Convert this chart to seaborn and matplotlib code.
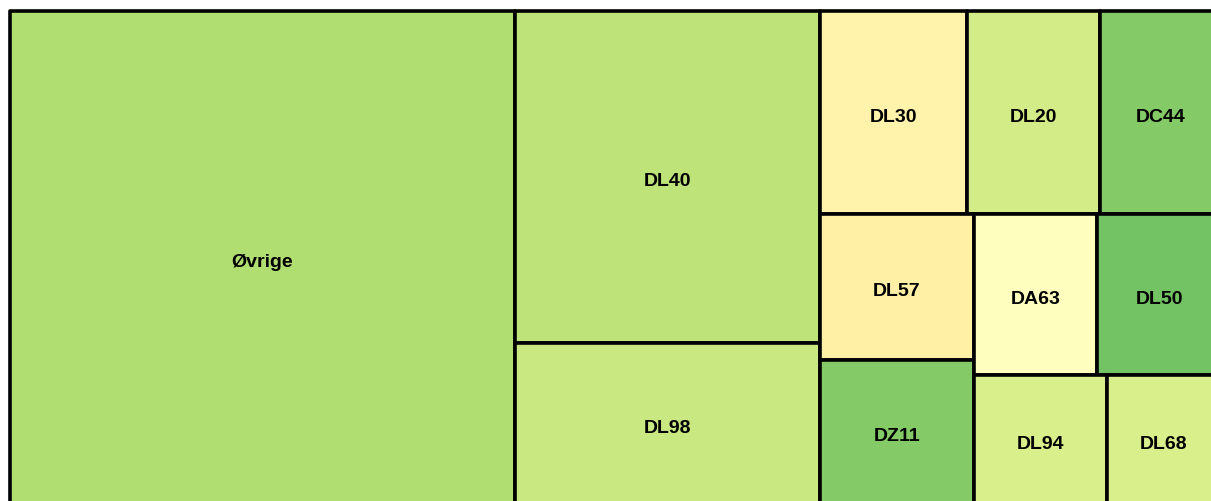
import matplotlib
matplotlib.use("Agg")
import matplotlib.pyplot as plt
from matplotlib.patches import Rectangle
import seaborn as sns

# treemap data, biggest first
labels = ["Øvrige", "DL40", "DL98", "DL30", "DL20", "DC44",
          "DL57", "DZ11", "DA63", "DL50", "DL94", "DL68"]
values = [249.5, 101.3, 49.3, 29.9, 27.1, 24.6, 22.4, 22.2, 19.8, 19.8, 17.3, 14.8]
# colour value on the RdYlGn scale (0 = red, 1 = green)
scores = [0.676, 0.655, 0.631, 0.461, 0.61, 0.75, 0.452, 0.75, 0.5, 0.778, 0.6, 0.6]

SQUARIFY_RATIO = 1.5
W, H = 1211.5, 493.5   # layout canvas in pixel units


def squarify(vals, x0, y0, x1, y1, ratio):
    # d3-style squarified layout
    rects = []
    total = sum(vals)
    i0, n = 0, len(vals)
    while i0 < n:
        dx, dy = x1 - x0, y1 - y0
        s = vals[i0]
        vmin = vmax = s
        alpha = max(dy / dx, dx / dy) / (total * ratio)
        beta = s * s * alpha
        best = max(vmax / beta, beta / vmin)
        i1 = i0 + 1
        while i1 < n:
            v = vals[i1]
            s2 = s + v
            beta = s2 * s2 * alpha
            r = max(max(vmax, v) / beta, beta / min(vmin, v))
            if r > best:
                break
            s, best = s2, r
            vmin, vmax = min(vmin, v), max(vmax, v)
            i1 += 1
        row = vals[i0:i1]
        if dx < dy:
            h = dy * s / total
            cx = x0
            for v in row:
                w = dx * v / s
                rects.append((cx, y0, w, h))
                cx += w
            y0 += h
        else:
            w = dx * s / total
            cy = y0
            for v in row:
                h = dy * v / s
                rects.append((x0, cy, w, h))
                cy += h
            x0 += w
        total -= s
        i0 = i1
    return rects


sns.set_theme(style="white")
plt.rcParams['font.family'] = ['Liberation Sans', 'DejaVu Sans']
cmap = sns.color_palette("RdYlGn", as_cmap=True)

fig = plt.figure(figsize=(12.11, 5.02), dpi=100)
# the treemap runs a little past the right and bottom edge of the picture
ax = fig.add_axes([9.5 / 1211, (502 - 505.5) / 502, W / 1211, H / 502])
ax.set_xlim(0, W)
ax.set_ylim(H, 0)
ax.axis("off")

rects = squarify(values, 0, 0, W, H, SQUARIFY_RATIO)
for (x, y, w, h), lab, sc in zip(rects, labels, scores):
    ax.add_patch(Rectangle((x, y), w, h, facecolor=cmap(sc), edgecolor="black",
                           linewidth=2.6, joinstyle="round", clip_on=False))
    ax.text(x + w / 2, y + h / 2 + 3.5, lab, ha="center", va="center",
            fontsize=14, fontweight="bold", color="black")

fig.savefig("out.png", dpi=100)
